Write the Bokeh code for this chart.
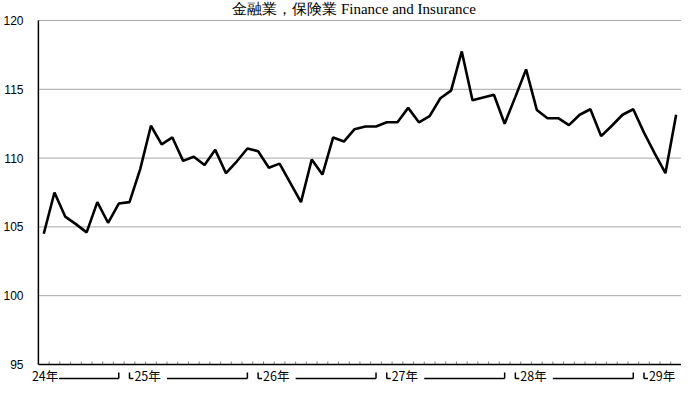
from bokeh.plotting import figure
from bokeh.models import Range1d, FixedTicker
from bokeh.core.properties import value
from bokeh.embed import file_html
from bokeh.resources import INLINE

# ---------------- data ----------------
TITLE = "金融業，保険業 Finance and Insurance"
year_labels = ["24年", "25年", "26年", "27年", "28年", "29年"]
months_per_year = [8, 12, 12, 12, 12, 4]
index_values = [
    104.5, 107.5, 105.75, 105.2, 104.6, 106.8, 105.3, 106.7,
    106.8, 109.2, 112.35, 111.0, 111.5, 109.8, 110.1, 109.5, 110.6, 108.9, 109.75, 110.7,
    110.5, 109.3, 109.6, 108.2, 106.8, 109.9, 108.8, 111.5, 111.2, 112.1, 112.3, 112.3,
    112.6, 112.6, 113.65, 112.6, 113.05, 114.35, 114.9, 117.75, 114.2, 114.4, 114.6, 112.5,
    114.45, 116.45, 113.5, 112.9, 112.9, 112.4, 113.15, 113.55, 111.6, 112.35, 113.15, 113.55,
    111.85, 110.35, 108.9, 113.15,
]
y_ticks = [95, 100, 105, 110, 115, 120]

# ---------------- layout constants (pixels) ----------------
W, H = 681, 385
LEFT = 21            # axis label panel
AXIS_PAD = 8         # gap between frame left and the value axis line
TOP_PX, BOT_PX = 20, 364   # where 120 and 95 sit inside the frame
n = len(index_values)
frame_w = W - LEFT
u = (frame_w - AXIS_PAD) / n            # pixels per category
ppu = (BOT_PX - TOP_PX) / (y_ticks[-1] - y_ticks[0])   # pixels per index point
x_left, x_right = -0.5, n - 0.5
x_start = x_left - AXIS_PAD / u
y_lo = y_ticks[0] - (H - BOT_PX) / ppu
y_hi = y_ticks[-1] + TOP_PX / ppu

p = figure(width=W, height=H, x_range=Range1d(x_start, x_right),
           y_range=Range1d(y_lo, y_hi), output_backend="svg",
           toolbar_location=None, x_axis_location=None,
           min_border_left=LEFT, min_border_right=0, min_border_top=0,
           min_border_bottom=0)
p.outline_line_color = None
p.xgrid.visible = False
p.ygrid.visible = False
p.background_fill_color = "white"

ax = p.yaxis[0]
ax.ticker = FixedTicker(ticks=y_ticks)
ax.axis_line_color = None
ax.major_tick_line_color = None
ax.minor_tick_line_color = None
ax.major_label_text_font = "Liberation Sans"
ax.major_label_text_font_size = "12px"
ax.major_label_text_color = "black"
ax.major_label_standoff = 1

# grid lines (bounded to the plotting area)
gy = y_ticks[1:]
p.segment(x0=[x_left] * len(gy), x1=[x_right] * len(gy), y0=gy, y1=gy,
          line_color="#a6a6a6", line_width=1)

# minor category ticks on the x axis
bounds = [i + 0.5 for i in range(n)]
tick_len = 3 / ppu
p.segment(x0=bounds, x1=bounds, y0=[y_ticks[0]] * n,
          y1=[y_ticks[0] + tick_len] * n, line_color="#808080", line_width=1)

# axis lines
p.segment(x0=[x_left], x1=[x_left], y0=[y_ticks[0]], y1=[y_ticks[-1]],
          line_color="black", line_width=1.5)
p.segment(x0=[x_left], x1=[x_right], y0=[y_ticks[0]], y1=[y_ticks[0]],
          line_color="black", line_width=1.5)

# data line
xs = list(range(n))
p.line(xs, index_values, line_color="black", line_width=2.6)

# year labels with brackets
y_text = y_ticks[0] - 11 / ppu
y_line = y_ticks[0] - 14 / ppu
y_brk = y_line + 6 / ppu
tx, ty, tt = [], [], []
sx0, sx1, sy0, sy1 = [], [], [], []
start = 0
for k, (lab, m) in enumerate(zip(year_labels, months_per_year)):
    s, e = start, start + m - 1
    last = k == len(year_labels) - 1
    if k == 0:
        tx.append(s - 12 / u)
        line_from = s + 15.5 / u
    else:
        tx.append(s + 5 / u)
        line_from = s + 38 / u
        # left bracket
        sx0 += [s, s]; sx1 += [s, s + 4 / u]
        sy0 += [y_line, y_line]; sy1 += [y_brk, y_line]
    ty.append(y_text); tt.append(lab)
    if not last:
        sx0 += [line_from, e]; sx1 += [e, e]
        sy0 += [y_line, y_line]; sy1 += [y_line, y_brk]
    start += m

p.segment(x0=sx0, x1=sx1, y0=sy0, y1=sy1, line_color="black", line_width=1.5)
p.text(x=tx, y=ty, text=tt, text_font=value("Noto Sans CJK JP"),
       text_font_size="12.5px", text_align="left", text_baseline="middle",
       text_color="black")

# title
p.text(x=[(x_left + x_right) / 2 - 6 / u], y=[y_ticks[-1] + 12 / ppu], text=[TITLE],
       text_font=value("Liberation Serif"), text_font_size="15px",
       text_align="center", text_baseline="middle", text_color="black")

open("out.html", "w").write(file_html(p, INLINE))
